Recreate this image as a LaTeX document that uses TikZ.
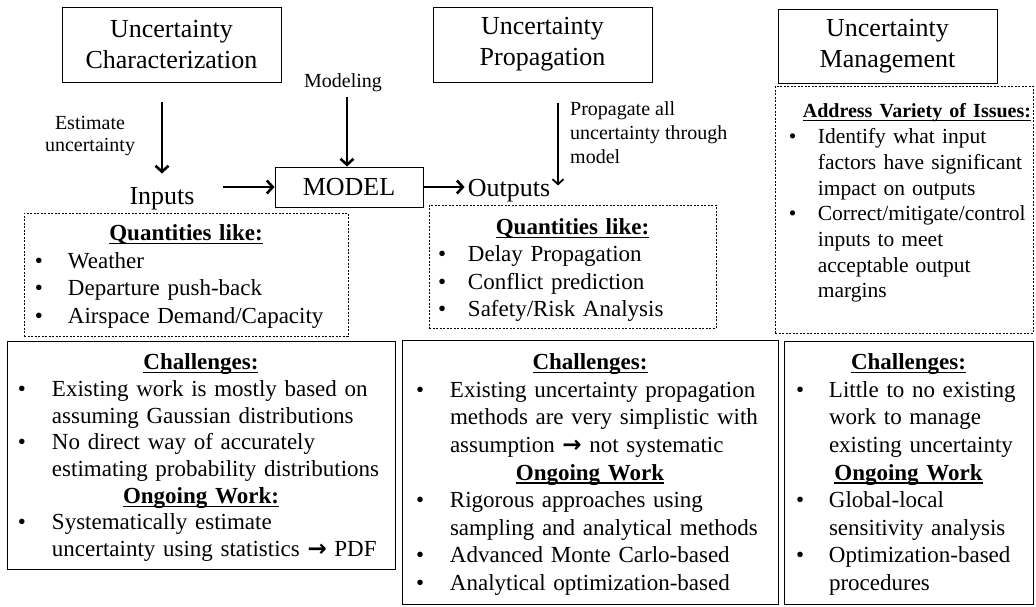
\documentclass[tikz,border=0pt]{standalone}
\usepackage{fontspec}
\setmainfont{Liberation Serif}
\newfontfamily\arrowfont{DejaVu Sans}
\usetikzlibrary{arrows.meta,positioning}

\newsavebox\ulbox
\newlength\bioff
\newlength\bihang
% underline at a fixed depth
\newcommand\ulin[1]{\sbox\ulbox{#1}\rlap{\rule[-3.5pt]{\wd\ulbox}{1.1pt}}\usebox\ulbox}
% centred, underlined heading line
\newcommand\hd[1]{\par{\centering\noindent\ulin{\textbf{#1}}\par}}
% bullet line with hanging indent
\newcommand\bi[1]{\par\hangindent\bihang\hangafter1\noindent\hbox to\bihang{\hskip\bioff\textbullet\hfil}{\let\\\newline#1}\par}
\newcommand\rarr{{\arrowfont\bfseries →}}

\begin{document}
\begin{tikzpicture}[x=1pt,y=-1pt,
	titlebox/.style={draw,line width=0.9pt,inner sep=0pt,align=center,font=\fontsize{26}{31}\selectfont},
	dashbox/.style={draw,line width=0.7pt,dash pattern=on 2pt off 1.5pt,inner sep=0pt},
	solidbox/.style={draw,line width=1pt,inner sep=0pt},
	body/.style={inner sep=0pt,anchor=north,align=left,font=\fontsize{23}{26.7}\selectfont},
	note/.style={inner sep=0pt,font=\fontsize{20}{22.5}\selectfont},
	bigarrow/.style={line width=2.6pt,-{Straight Barb[length=6pt,width=13pt]}},
	thinarrow/.style={line width=1.8pt,-{Straight Barb[length=5pt,width=11pt]}}]
	\useasboundingbox (0,0) rectangle (1036,606);
	% top row
	\node[titlebox,minimum width=219pt,minimum height=75pt] (charbox) at (171.5,44.5) {Uncertainty\\Characterization};
	\node[titlebox,minimum width=219pt,minimum height=75pt] (propbox) at (542.5,44.5) {Uncertainty\\Propagation};
	\node[titlebox,minimum width=219pt,minimum height=74pt] (mgmtbox) at (887.5,46) {Uncertainty\\Management};
	\node[titlebox,minimum width=148pt,minimum height=40pt] (model) at (349,187) {MODEL};
	\node[inner sep=0pt,font=\fontsize{26}{31}\selectfont] (inputs) at (162,199) {Inputs};
	\node[inner sep=0pt,font=\fontsize{26}{31}\selectfont] (outputs) at (509,191) {Outputs};
	\node[note,align=center] (estimate) at (90,136) {Estimate\\uncertainty};
	\node[note] (modeling) at (343,83) {Modeling};
	\node[note,align=left,anchor=north west,font=\fontsize{20}{24}\selectfont] (propagate) at (570,101) {Propagate all\\uncertainty through\\model};
	\coordinate (est0) at (162,102);
	\coordinate (modl0) at (347,97);
	\coordinate (prop0) at (558,103);
	\draw[bigarrow] (est0) -- ([yshift=14pt]inputs.north);
	\draw[bigarrow] (modl0) -- (modl0 |- model.north);
	\draw[thinarrow] (prop0) -- ([yshift=-6pt]prop0 |- outputs.north);
	\draw[bigarrow,shorten <=28pt] (inputs.east |- model.west) -- (model.west);
	\draw[bigarrow,shorten >=3pt] (model.east) -- (model.east -| outputs.west);
	% dashed boxes
	\node[dashbox,minimum width=324pt,minimum height=123pt] (qin) at (186,274.5) {};
	\node[dashbox,minimum width=287pt,minimum height=123pt] (qout) at (572.5,266.5) {};
	\node[dashbox,minimum width=258pt,minimum height=247pt] (issues) at (904,209.5) {};
	\node[body,text width=364pt,font=\fontsize{23}{27.5}\selectfont] (qintxt) at ([yshift=-0.5pt]qin.north) {\setlength\bioff{31pt}\setlength\bihang{64pt}%
		\hd{Quantities like:}
		\bi{Weather}
		\bi{Departure push-back}
		\bi{Airspace Demand/Capacity}};
	\node[body,text width=327pt,font=\fontsize{23}{27.5}\selectfont] (qouttxt) at ([yshift=-2pt]qout.north) {\setlength\bioff{29pt}\setlength\bihang{59pt}%
		\hd{Quantities like:}
		\bi{Delay Propagation}
		\bi{Conflict prediction}
		\bi{Safety/Risk Analysis}};
	\node[body,anchor=north west,text width=300pt,font=\fontsize{21.5}{25.7}\selectfont] (issuestxt) at ([yshift=-18pt]issues.north west) {\setlength\bioff{14pt}\setlength\bihang{43pt}%
		\noindent\hspace{28pt}{\fontsize{20}{25.7}\selectfont\ulin{\textbf{Address Variety of Issues:}}}
		\bi{Identify what input\\factors have significant\\impact on outputs}
		\bi{Correct/mitigate/control\\inputs to meet\\acceptable output\\margins}};
	% bottom boxes
	\node[solidbox,minimum width=388pt,minimum height=228pt] (chA) at (201,455) {};
	\node[solidbox,minimum width=376pt,minimum height=264pt] (chB) at (590,472) {};
	\node[solidbox,minimum width=249pt,minimum height=263pt] (chC) at (908.5,472.5) {};
	\node[body,text width=428pt] (chAtxt) at ([yshift=-2.3pt]chA.north) {\setlength\bioff{31pt}\setlength\bihang{65pt}%
		\hd{Challenges:}
		\bi{Existing work is mostly based on\\assuming Gaussian distributions}
		\bi{No direct way of accurately\\estimating probability distributions}
		\hd{Ongoing Work:}
		\bi{Systematically estimate\\uncertainty using statistics \rarr{} PDF}};
	\node[body,text width=416pt,font=\fontsize{23}{27.6}\selectfont] (chBtxt) at ([yshift=-2.3pt]chB.north) {\setlength\bioff{34pt}\setlength\bihang{68pt}%
		\hd{Challenges:}
		\bi{Existing uncertainty propagation\\methods are very simplistic with\\assumption \rarr{} not systematic}
		\hd{Ongoing Work}
		\bi{Rigorous approaches using\\sampling and analytical methods}
		\bi{Advanced Monte Carlo-based}
		\bi{Analytical optimization-based}};
	\node[body,text width=289pt,font=\fontsize{23}{27.6}\selectfont] (chCtxt) at ([yshift=-1.3pt]chC.north) {\setlength\bioff{32pt}\setlength\bihang{65pt}%
		\hd{Challenges:}
		\bi{Little to no existing\\work to manage\\existing uncertainty}
		\hd{Ongoing Work}
		\bi{Global-local\\sensitivity analysis}
		\bi{Optimization-based\\procedures}};
\end{tikzpicture}
\end{document}
